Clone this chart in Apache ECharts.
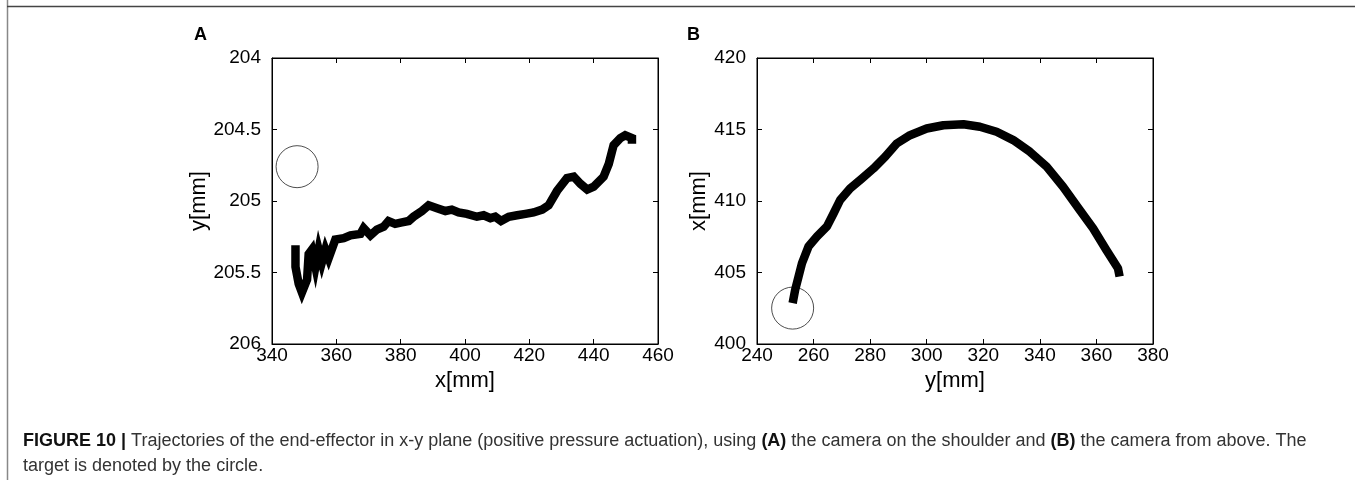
<!DOCTYPE html>
<html>
<head>
<meta charset="utf-8">
<script src="https://cdn.jsdelivr.net/npm/echarts@6/dist/echarts.min.js"></script>
<style>
html,body{margin:0;padding:0;background:#fff;}
#chart{width:1355px;height:480px;}
</style>
</head>
<body>
<div id="chart"></div>
<script>
// Panel A: x[mm] vs y[mm] (y axis inverted), camera on the shoulder
const trajA_x = [347.3,347.3,348.3,349.3,350.9,351.4,352.4,353.5,354.5,355.5,356.6,357.6,359.7,362.3,364.4,367.5,368.5,370.6,372.6,374.7,376.2,378.3,380.4,382.5,384.0,386.6,388.7,391.3,393.9,395.9,398.0,400.6,403.7,405.8,407.9,409.4,411.2,413.6,416.2,418.8,421.3,424.0,426.0,428.6,431.7,433.8,435.9,438.0,440.0,443.1,444.7,446.2,448.3,449.8,451.9,451.9];
const trajA_y = [205.31,205.46,205.58,205.64,205.55,205.37,205.34,205.46,205.34,205.43,205.34,205.40,205.27,205.26,205.24,205.23,205.19,205.24,205.20,205.18,205.14,205.16,205.15,205.14,205.11,205.07,205.03,205.05,205.07,205.06,205.08,205.09,205.11,205.10,205.12,205.11,205.14,205.11,205.10,205.09,205.08,205.06,205.03,204.93,204.84,204.83,204.88,204.92,204.90,204.83,204.74,204.61,204.56,204.54,204.56,204.60];
const targetA = [347.8, 204.76];

// Panel B: y[mm] vs x[mm], camera from above
const trajB_x = [252.6,253.5,254.7,255.9,258.2,261.2,264.7,267.1,269.4,272.9,277.1,281.2,285.3,289.4,294.1,300.0,305.9,313.0,318.8,324.7,330.6,336.5,342.4,348.2,354.1,358.8,363.5,367.6,368.2];
const trajB_y = [402.86,403.79,404.72,405.65,406.81,407.51,408.21,409.14,410.07,410.88,411.58,412.28,413.09,414.02,414.60,415.07,415.30,415.37,415.19,414.84,414.26,413.44,412.40,411.00,409.37,408.09,406.58,405.30,404.72];
const targetB = [252.6, 402.51];

// Axis ranges / ticks
const axA_x = {min:340, max:460, interval:20};
const axA_y = {min:204, max:206, interval:0.5};
const axB_x = {min:240, max:380, interval:20};
const axB_y = {min:400, max:420, interval:5};

const panelLabels = ['A', 'B'];
const axisNames = {A:['x[mm]','y[mm]'], B:['y[mm]','x[mm]']};
const captionBold = 'FIGURE 10 |';
const captionLine1 = ' Trajectories of the end-effector in x-y plane (positive pressure actuation), using ';
const captionLine1b = ' the camera on the shoulder and ';
const captionLine1c = ' the camera from above. The';
const captionLine2 = 'target is denoted by the circle.';

const FONT = 'Liberation Sans';
const chart = echarts.init(document.getElementById('chart'), null, {renderer:'canvas'});

function zip(a,b){return a.map((v,i)=>[v,b[i]]);}

const grids = [
  {left:272, top:58, width:386, height:286, show:true, borderColor:'#000', borderWidth:1, backgroundColor:'transparent'},
  {left:757, top:58, width:396, height:286, show:true, borderColor:'#000', borderWidth:1, backgroundColor:'transparent'}
];

function mainX(idx, ax, name){
  return {type:'value', gridIndex:idx, position:'bottom', min:ax.min, max:ax.max, interval:ax.interval,
    name:name, nameLocation:'middle', nameGap:24, nameTextStyle:{fontFamily:FONT, fontSize:22, color:'#000'},
    axisLine:{show:true, onZero:false, lineStyle:{color:'#000', width:1}},
    axisTick:{show:true, inside:true, length:5, lineStyle:{color:'#000'}},
    axisLabel:{fontFamily:FONT, fontSize:19, color:'#000', margin:2},
    splitLine:{show:false}};
}
function mirrorX(idx, ax){
  return {type:'value', gridIndex:idx, position:'top', min:ax.min, max:ax.max, interval:ax.interval,
    axisLine:{show:true, onZero:false, lineStyle:{color:'#000'}},
    axisTick:{show:true, inside:true, length:5, lineStyle:{color:'#000'}},
    axisLabel:{show:false}, splitLine:{show:false}};
}
function mainY(idx, ax, name, inverse, gap){
  return {type:'value', gridIndex:idx, position:'left', min:ax.min, max:ax.max, interval:ax.interval, inverse:inverse,
    name:name, nameLocation:'middle', nameGap:gap, nameRotate:90, nameTextStyle:{fontFamily:FONT, fontSize:22, color:'#000'},
    axisLine:{show:true, onZero:false, lineStyle:{color:'#000', width:1}},
    axisTick:{show:true, inside:true, length:5, lineStyle:{color:'#000'}},
    axisLabel:{fontFamily:FONT, fontSize:19, color:'#000', margin:11},
    splitLine:{show:false}};
}
function mirrorY(idx, ax, inverse){
  return {type:'value', gridIndex:idx, position:'right', min:ax.min, max:ax.max, interval:ax.interval, inverse:inverse,
    axisLine:{show:true, onZero:false, lineStyle:{color:'#000'}},
    axisTick:{show:true, inside:true, length:5, lineStyle:{color:'#000'}},
    axisLabel:{show:false}, splitLine:{show:false}};
}

const option = {
  animation:false,
  backgroundColor:'#fff',
  grid: grids,
  xAxis: [mainX(0, axA_x, axisNames.A[0]), mainX(1, axB_x, axisNames.B[0]), mirrorX(0, axA_x), mirrorX(1, axB_x)],
  yAxis: [mainY(0, axA_y, axisNames.A[1], true, 59), mainY(1, axB_y, axisNames.B[1], false, 44), mirrorY(0, axA_y, true), mirrorY(1, axB_y, false)],
  series: [
    {type:'scatter', xAxisIndex:0, yAxisIndex:0, data:[targetA], symbol:'circle', symbolSize:42, z:1,
      itemStyle:{color:'rgba(0,0,0,0)', borderColor:'#222', borderWidth:1}, silent:true},
    {type:'scatter', xAxisIndex:1, yAxisIndex:1, data:[targetB], symbol:'circle', symbolSize:42, z:1,
      itemStyle:{color:'rgba(0,0,0,0)', borderColor:'#222', borderWidth:1}, silent:true},
    {type:'line', xAxisIndex:0, yAxisIndex:0, data:zip(trajA_x, trajA_y), showSymbol:false, symbol:'none', z:3,
      lineStyle:{color:'#000', width:8.5, join:'miter', cap:'butt'}},
    {type:'line', xAxisIndex:1, yAxisIndex:1, data:zip(trajB_x, trajB_y), showSymbol:false, symbol:'none', z:3,
      lineStyle:{color:'#000', width:8.5, join:'round', cap:'butt'}}
  ],
  graphic: [
    {type:'line', shape:{x1:7.5, y1:0, x2:7.5, y2:480}, style:{stroke:'#888', lineWidth:1.5}},
    {type:'line', shape:{x1:7, y1:6.5, x2:1355, y2:6.5}, style:{stroke:'#444', lineWidth:1.5}},
    {type:'text', left:194, top:26, style:{text:panelLabels[0], font:'bold 18px "Liberation Sans"', fill:'#000'}},
    {type:'text', left:687, top:26, style:{text:panelLabels[1], font:'bold 18px "Liberation Sans"', fill:'#000'}},
    {type:'text', left:23, top:429, style:{
      text:'{b|' + captionBold + '}' + captionLine1 + '{b|(A)}' + captionLine1b + '{b|(B)}' + captionLine1c + '\n' + captionLine2,
      fontFamily:FONT, fontSize:18, fill:'#333', lineHeight:25,
      rich:{b:{fontFamily:FONT, fontSize:18, fontWeight:'bold', fill:'#111', lineHeight:25}}
    }}
  ]
};
chart.setOption(option);
</script>
</body>
</html>
